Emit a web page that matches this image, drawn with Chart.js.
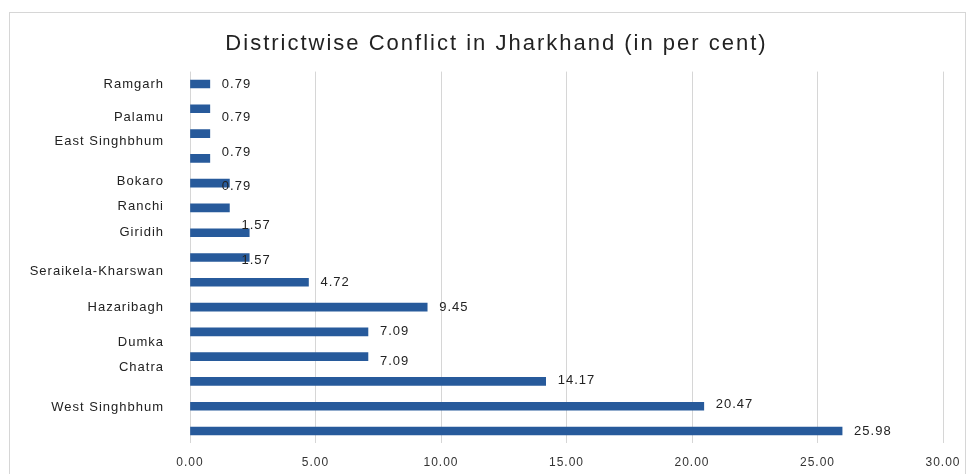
<!DOCTYPE html>
<html>
<head>
<meta charset="utf-8">
<script src="https://cdn.jsdelivr.net/npm/chart.js@4"></script>
<style>
html,body{margin:0;padding:0;background:#fff;overflow:hidden}
#frame{position:absolute;left:9px;top:12px;width:957px;height:480px;border:1px solid #d6d6d6;box-sizing:border-box}
#c{position:absolute;left:0;top:0}
</style>
</head>
<body>
<div id="frame"></div>
<canvas id="c" width="975" height="474"></canvas>
<script>
// ---- data ----
const chartTitle = 'Districtwise Conflict in Jharkhand (in per cent)';
// 15 bars, top to bottom
const barSlots = ['1','2','3','4','5','6','7','8','9','10','11','12','13','14','15'];
const barValues = [0.79, 0.79, 0.79, 0.79, 1.57, 1.57, 2.36, 2.36, 4.72, 9.45, 7.09, 7.09, 14.17, 20.47, 25.98];
// district names as printed on the left, and the bar row (0 = top) they sit beside
const districts = ['Ramgarh', 'Palamu', 'East Singhbhum', 'Bokaro', 'Ranchi', 'Giridih',
                   'Seraikela-Kharswan', 'Hazaribagh', 'Dumka', 'Chatra', 'West Singhbhum'];
const districtRows = [0, 1.33, 2.3, 3.95, 4.92, 5.97, 7.58, 9.0, 10.44, 11.45, 13.06];
// printed value labels and the bar row they sit beside
const valueLabels = [0.79, 0.79, 0.79, 0.79, 1.57, 1.57, 4.72, 9.45, 7.09, 7.09, 14.17, 20.47, 25.98];
const valueLabelRows = [0, 1.33, 2.78, 4.15, 5.69, 7.1, 8.02, 9.0, 10.0, 11.2, 11.94, 12.94, 14.03];
const xTicks = [0, 5, 10, 15, 20, 25, 30];

Chart.defaults.font.family = "'Liberation Sans', Arial, sans-serif";

const extras = {
  id: 'extras',
  beforeDraw(chart) {
    const tb = chart.titleBlock;
    if (tb && !tb._wrapped) {
      const orig = tb.draw;
      tb.draw = function (...args) {
        const c = this.ctx;
        c.save();
        c.letterSpacing = '2px';
        c.translate(25, 0);
        orig.apply(this, args);
        c.restore();
      };
      tb._wrapped = true;
    }
    chart.ctx.letterSpacing = '1px';
  },
  afterDatasetsDraw(chart) {
    const ctx = chart.ctx;
    const xs = chart.scales.x, ys = chart.scales.yl;
    ctx.save();
    ctx.letterSpacing = '1px';
    ctx.font = "13px 'Liberation Sans', Arial, sans-serif";
    ctx.fillStyle = '#222';
    ctx.textAlign = 'left';
    ctx.textBaseline = 'middle';
    valueLabels.forEach((v, i) => {
      const x = xs.getPixelForValue(v) + 12;
      const y = ys.getPixelForValue(valueLabelRows[i]);
      ctx.fillText(v.toFixed(2), x, y);
    });
    ctx.restore();
  },
  afterDraw(chart) {
    chart.ctx.letterSpacing = '0px';
  }
};

new Chart(document.getElementById('c'), {
  type: 'bar',
  data: {
    labels: barSlots,
    datasets: [{
      data: barValues,
      backgroundColor: '#275a9b',
      borderWidth: 0,
      barThickness: 8,
      xAxisID: 'x',
      yAxisID: 'y'
    }]
  },
  options: {
    indexAxis: 'y',
    responsive: false,
    animation: false,
    devicePixelRatio: 1,
    layout: { padding: { left: 0, right: 32, top: 0, bottom: 0 } },
    plugins: {
      legend: { display: false },
      tooltip: { enabled: false },
      title: {
        display: true,
        text: chartTitle,
        color: '#222',
        font: { size: 22, weight: 'normal' },
        padding: { top: 31, bottom: 14.2 }
      }
    },
    scales: {
      x: {
        type: 'linear',
        position: 'bottom',
        min: 0,
        max: 30,
        afterBuildTicks: s => { s.ticks = xTicks.map(v => ({ value: v })); },
        afterFit: s => { s.height = 30.6; },
        ticks: {
          padding: 12.4,
          color: '#333',
          font: { size: 12 },
          maxRotation: 0,
          autoSkip: false,
          callback: v => Number(v).toFixed(2)
        },
        grid: { color: '#d6d6d6', lineWidth: 1, drawTicks: false },
        border: { display: false }
      },
      y: {
        type: 'category',
        display: false,
        offset: true
      },
      yl: {
        axis: 'y',
        type: 'linear',
        position: 'left',
        min: -0.5,
        max: 14.5,
        reverse: true,
        offset: false,
        bounds: 'data',
        afterBuildTicks: s => { s.ticks = districtRows.map(v => ({ value: v })); },
        afterFit: s => { s.width = 190; },
        ticks: {
          autoSkip: false,
          padding: 0,
          color: '#222',
          font: { size: 13 },
          callback: v => districts[districtRows.indexOf(v)]
        },
        grid: { display: true, offset: false, drawOnChartArea: false, drawTicks: true, tickLength: 26, color: 'rgba(0,0,0,0)' },
        border: { display: false }
      }
    }
  },
  plugins: [extras]
});
</script>
</body>
</html>
